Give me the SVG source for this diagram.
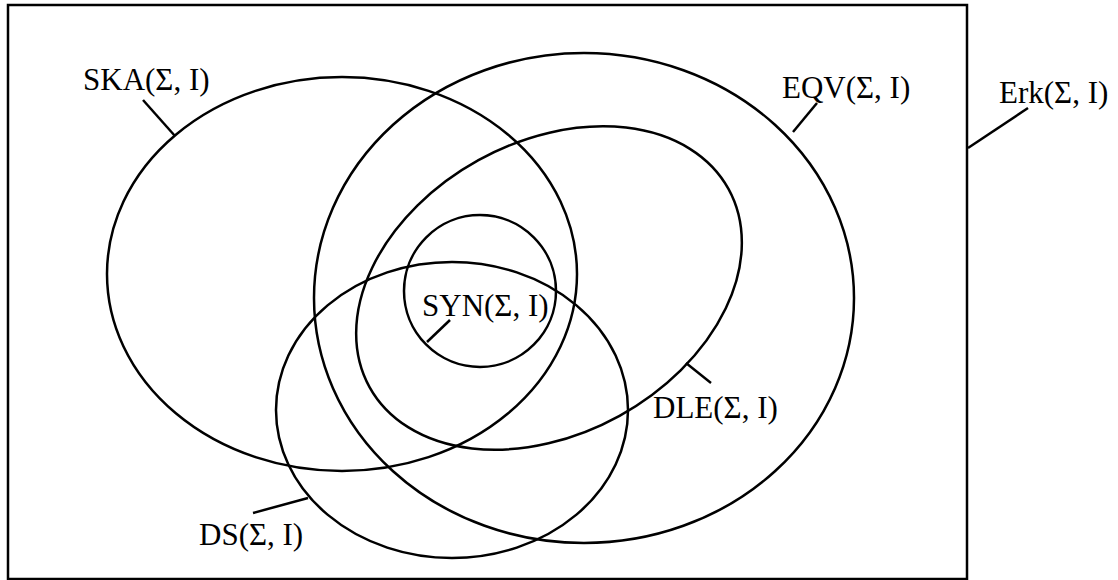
<svg xmlns="http://www.w3.org/2000/svg" width="1118" height="580" viewBox="0 0 1118 580">
<style>
.s{fill:none;stroke:#000;stroke-width:2.5}
text{font-family:"Liberation Serif","Times New Roman",serif;font-size:31px;fill:#000}
</style>
<rect width="1118" height="580" fill="#fff"/>
<g id="erk"><rect class="s" x="8" y="5" width="959" height="574"/><text x="999" y="103">Erk(Σ, I)</text></g>
<g id="ska"><ellipse class="s" cx="342" cy="274" rx="235" ry="197"/><text x="83" y="90">SKA(Σ, I)</text></g>
<g id="eqv"><ellipse class="s" cx="584" cy="298" rx="270" ry="245"/><text x="782" y="98">EQV(Σ, I)</text></g>
<g id="dle"><ellipse class="s" cx="0" cy="0" rx="205" ry="146" transform="translate(549 288) rotate(-28.9)"/><text x="653" y="418">DLE(Σ, I)</text></g>
<g id="ds"><ellipse class="s" cx="452" cy="410" rx="176" ry="148"/><text x="199" y="545">DS(Σ, I)</text></g>
<g id="syn"><circle class="s" cx="480" cy="291" r="76"/><text x="422" y="316">SYN(Σ, I)</text></g>
<g id="connectors" class="s">
<line x1="143" y1="100" x2="175" y2="136"/>
<line x1="817" y1="103" x2="793" y2="132"/>
<line x1="1028" y1="108" x2="968" y2="148"/>
<line x1="450" y1="320" x2="427" y2="342"/>
<line x1="686" y1="363" x2="711" y2="383"/>
<line x1="253" y1="513" x2="308" y2="498"/>
</g>
</svg>
